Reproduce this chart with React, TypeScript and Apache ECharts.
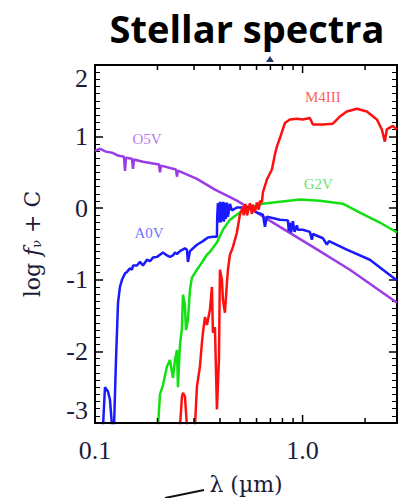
import React, { useEffect, useRef } from 'react';
import * as echarts from 'echarts';

const TITLE = 'Stellar spectra';
const X_NAME = 'λ (µm)';
const X_MIN = 0.1;
const X_MAX = 2.85;
const Y_MIN = -3;
const Y_MAX = 2;
const X_MINOR_TICKS = [0.2, 0.3, 0.4, 0.5, 0.6, 0.7, 0.8, 0.9, 2.0];
const X_MAJOR_TICKS = [1.0];

// [wavelength (µm), log f_nu + C]
const O5V: [number, number][] = [
  [0.1, 0.8], [0.1057, 0.83], [0.113, 0.79], [0.1208, 0.775], [0.1291, 0.735], [0.1379, 0.72],
  [0.1395, 0.52], [0.141, 0.705], [0.1507, 0.69], [0.1524, 0.55], [0.1541, 0.68], [0.1703, 0.65],
  [0.2033, 0.61], [0.2056, 0.5], [0.2079, 0.595], [0.2455, 0.54], [0.2482, 0.44], [0.251, 0.525],
  [0.3098, 0.41], [0.3783, 0.26], [0.4828, 0.105], [0.6026, -0.063], [0.7776, -0.26], [1.121, -0.54],
  [1.69, -0.86], [2.85, -1.32],
];

const A0V: [number, number][] = [
  [0.1093, -3.05], [0.1117, -2.5], [0.1155, -2.56], [0.1181, -2.68], [0.1208, -3.05], [0.1235, -3.05],
  [0.1262, -2.12], [0.1291, -1.32], [0.1319, -1.1], [0.1349, -1.0], [0.1395, -0.91], [0.1426, -0.89],
  [0.1474, -0.84], [0.1507, -0.86], [0.1524, -0.8], [0.1593, -0.8], [0.1647, -0.75], [0.1703, -0.8],
  [0.178, -0.72], [0.184, -0.74], [0.1902, -0.69], [0.1989, -0.68], [0.2056, -0.65], [0.2125, -0.62],
  [0.2222, -0.66], [0.2297, -0.68], [0.2374, -0.66], [0.2428, -0.62], [0.2482, -0.64], [0.2566, -0.6],
  [0.2712, -0.56], [0.2773, -0.58], [0.2804, -0.75], [0.2867, -0.6], [0.3098, -0.51], [0.3311, -0.46],
  [0.35, -0.41], [0.3699, -0.4], [0.3867, -0.4], [0.388, -0.12], [0.391, 0.07], [0.3935, -0.2],
  [0.3954, 0.05], [0.3975, -0.18], [0.3998, 0.09], [0.404, -0.2], [0.4088, 0.08], [0.411, -0.17],
  [0.4133, 0.09], [0.418, -0.19], [0.4226, 0.08], [0.427, -0.15], [0.4321, 0.08], [0.4369, -0.12],
  [0.4467, 0.06], [0.4567, -0.03], [0.4827, 0.01], [0.5393, 0.01], [0.6026, -0.06], [0.644, -0.09],
  [0.6585, -0.26], [0.6732, -0.12], [0.7776, -0.16], [0.8497, -0.17], [0.858, -0.32], [0.8687, -0.2],
  [0.88, -0.34], [0.8981, -0.18], [0.915, -0.33], [0.9388, -0.24], [0.9492, -0.3], [1.003, -0.3],
  [1.084, -0.33], [1.109, -0.44], [1.121, -0.36], [1.253, -0.42], [1.309, -0.51], [1.34, -0.46],
  [1.634, -0.58], [2.109, -0.72], [2.85, -1.01],
];

const G2V: [number, number][] = [
  [0.2011, -3.05], [0.2056, -2.6], [0.2125, -2.47], [0.2222, -2.21], [0.2297, -2.12], [0.2374, -2.37],
  [0.2428, -2.12], [0.2482, -1.98], [0.251, -2.5], [0.2566, -1.91], [0.2624, -1.67], [0.2653, -1.21],
  [0.2712, -1.35], [0.2742, -1.7], [0.2804, -1.56], [0.2867, -1.14], [0.2931, -0.97], [0.3098, -0.86],
  [0.3203, -0.8], [0.3461, -0.65], [0.3578, -0.61], [0.3867, -0.48], [0.4133, -0.3], [0.4467, -0.16],
  [0.4991, -0.06], [0.5393, -0.02], [0.644, 0.063], [0.7776, 0.09], [0.9706, 0.12], [1.212, 0.105],
  [1.563, 0.063], [1.888, -0.063], [2.356, -0.2], [2.85, -0.34],
];

const M4III: [number, number][] = [
  [0.2566, -3.05], [0.2624, -2.63], [0.2653, -2.58], [0.2712, -2.63], [0.2773, -3.05], [0.303, -3.05],
  [0.3098, -2.49], [0.3203, -2.21], [0.3274, -1.88], [0.3311, -1.74], [0.3386, -1.52], [0.3461, -1.63],
  [0.35, -1.56], [0.3578, -1.42], [0.3659, -1.1], [0.3699, -1.74], [0.3782, -1.66], [0.3867, -2.81],
  [0.3954, -2.12], [0.3998, -0.86], [0.4088, -1.0], [0.4133, -1.28], [0.4226, -1.46], [0.4321, -1.04],
  [0.4369, -0.86], [0.4467, -0.65], [0.4567, -0.58], [0.4618, -0.54], [0.4827, -0.34], [0.4991, -0.09],
  [0.5159, 0.02], [0.52, -0.1], [0.53, 0.06], [0.54, -0.1], [0.5576, 0.07], [0.57, -0.08], [0.5764, 0.05],
  [0.59, -0.05], [0.6026, 0.08], [0.615, -0.02], [0.623, 0.1], [0.6369, 0.08], [0.644, 0.22],
  [0.6732, 0.4], [0.7116, 0.54], [0.7356, 0.75], [0.7521, 0.86], [0.7776, 0.98], [0.8219, 1.19],
  [0.8687, 1.24], [0.9388, 1.25], [1.003, 1.24], [1.084, 1.26], [1.121, 1.17], [1.253, 1.17],
  [1.399, 1.18], [1.512, 1.28], [1.634, 1.35], [1.826, 1.39], [2.04, 1.35], [2.279, 1.24],
  [2.409, 1.1], [2.49, 0.93], [2.546, 1.1], [2.721, 1.15], [2.85, 1.1],
];

const STAR_NAMES = ['O5V', 'A0V', 'G2V', 'M4III'];
const STAR_COLORS = ['#9a3de6', '#1a1aff', '#12e012', '#ff1010'];
const LABEL_COLORS = ['#a455e8', '#4a4aff', '#3fdc3f', '#ff3535'];
const LABEL_POS: [number, number][] = [
  [0.178, 0.96],
  [0.182, -0.34],
  [1.19, 0.34],
  [1.253, 1.56],
];

const AXIS_TEXT = '#1c1c3a';
const SERIF = 'Liberation Serif';

export default function App() {
  const ref = useRef<HTMLDivElement>(null);
  useEffect(() => {
    const chart = echarts.init(ref.current!, null, { renderer: 'svg' });
    const spectra = [O5V, A0V, G2V, M4III];
    const xBase = (pos: 'bottom' | 'top') => ({
      type: 'log',
      logBase: 10,
      min: X_MIN,
      max: X_MAX,
      position: pos,
      axisLine: { show: true, onZero: false, lineStyle: { color: '#000', width: 2 } },
      axisTick: { show: false },
      splitLine: { show: false },
    });
    const yBase = (pos: 'left' | 'right') => ({
      type: 'value',
      min: Y_MIN,
      max: Y_MAX,
      interval: 1,
      position: pos,
      axisLine: { show: true, onZero: false, lineStyle: { color: '#000', width: 2 } },
      axisTick: { show: true, inside: true, length: 8, lineStyle: { color: '#000', width: 1.5 } },
      minorTick: { show: true, splitNumber: 10, length: 5, lineStyle: { color: '#000', width: 1 } },
      splitLine: { show: false },
    });
    const tickData = [
      ...X_MINOR_TICKS.map((v) => [v, 5]),
      ...X_MAJOR_TICKS.map((v) => [v, 8]),
    ];
    chart.setOption({
      animation: false,
      grid: {
        left: 95, right: 4, top: 65, bottom: 75,
        show: true, borderColor: '#000', borderWidth: 2, backgroundColor: 'transparent',
        outerBoundsMode: 'none',
      },
      xAxis: [
        {
          ...xBase('bottom'),
          axisLabel: {
            formatter: (v: number) => v.toFixed(1),
            fontFamily: SERIF,
            fontSize: 26,
            color: AXIS_TEXT,
            margin: 14,
            showMaxLabel: false,
          },
          name: X_NAME,
          nameLocation: 'middle',
          nameGap: 50,
          nameTextStyle: { fontFamily: 'DejaVu Serif', fontSize: 22, color: AXIS_TEXT },
        },
        { ...xBase('top'), axisLabel: { show: false } },
      ],
      yAxis: [
        {
          ...yBase('left'),
          axisLabel: {
            fontFamily: SERIF,
            fontSize: 26,
            color: AXIS_TEXT,
            margin: 7,
            verticalAlignMinLabel: 'bottom',
            verticalAlignMaxLabel: 'top',
          },
          name: '{n|log }{i|f}{s|ν}{n| + C}',
          nameLocation: 'middle',
          nameRotate: 90,
          nameGap: 52,
          nameTextStyle: {
            color: AXIS_TEXT,
            rich: {
              n: { fontFamily: 'DejaVu Serif', fontSize: 22, color: AXIS_TEXT },
              i: { fontFamily: 'DejaVu Serif', fontSize: 22, fontStyle: 'italic', color: AXIS_TEXT },
              s: { fontFamily: 'DejaVu Serif', fontSize: 13, color: AXIS_TEXT, verticalAlign: 'bottom' },
            },
          },
        },
        { ...yBase('right'), axisLabel: { show: false } },
      ],
      series: [
        ...spectra.map((d, i) => ({
          type: 'line',
          name: STAR_NAMES[i],
          data: d,
          symbol: 'none',
          clip: true,
          lineStyle: { color: STAR_COLORS[i], width: 2.5 },
          z: 2 + i,
        })),
        {
          type: 'scatter',
          symbolSize: 1,
          itemStyle: { color: 'rgba(0,0,0,0)' },
          silent: true,
          z: 10,
          data: STAR_NAMES.map((n, i) => ({
            name: n,
            value: LABEL_POS[i],
            label: { color: LABEL_COLORS[i] },
          })),
          label: {
            show: true,
            position: 'inside',
            formatter: '{b}',
            fontFamily: SERIF,
            fontSize: 15,
            align: 'center',
            verticalAlign: 'middle',
          },
        },
        {
          type: 'custom',
          silent: true,
          z: 20,
          clip: false,
          data: tickData.map((d) => [d[0], Y_MAX, d[1]]),
          encode: { x: 0, y: 1 },
          renderItem: (_p: any, api: any) => {
            const v = api.value(0);
            const len = api.value(2);
            const t = api.coord([v, Y_MAX]);
            return {
              type: 'line',
              shape: { x1: t[0], y1: t[1], x2: t[0], y2: t[1] + len },
              style: { stroke: '#000', lineWidth: 1.5 },
            };
          },
        },
      ],
    });

    // Bottom frame and bottom ticks, placed through the chart's own scales.
    const toPx = (p: [number, number]) =>
      chart.convertToPixel({ xAxisIndex: 0, yAxisIndex: 0 }, p) as number[];
    const p0 = toPx([X_MIN, Y_MIN]);
    const p1 = toPx([X_MAX, Y_MIN]);
    const bottomTicks = tickData.map((d) => {
      const b = toPx([d[0], Y_MIN]);
      return {
        type: 'line',
        z: 100,
        shape: { x1: b[0], y1: b[1], x2: b[0], y2: b[1] - d[1] },
        style: { stroke: '#000', lineWidth: 1.5 },
      };
    });
    chart.setOption({
      graphic: [
        {
          type: 'text',
          x: 247,
          y: 28,
          style: {
            text: TITLE,
            fontFamily: 'Open Sans',
            fontWeight: 'bold',
            fontSize: 38,
            fill: '#000',
            textAlign: 'center',
            textVerticalAlign: 'middle',
          },
        },
        {
          type: 'polygon',
          shape: { points: [[266, 62], [274, 62], [270, 56]] },
          style: { fill: '#243a6a' },
        },
        {
          type: 'line',
          shape: { x1: 165, y1: 498, x2: 204, y2: 490 },
          style: { stroke: '#111', lineWidth: 2 },
        },
        {
          type: 'line',
          z: 100,
          shape: { x1: p0[0] - 1, y1: p0[1], x2: p1[0] + 1, y2: p1[1] },
          style: { stroke: '#000', lineWidth: 2 },
        },
        ...bottomTicks,
      ],
    });
    return () => chart.dispose();
  }, []);
  return <div ref={ref} style={{ position: 'absolute', left: 0, top: 0, width: 401, height: 498, background: '#fff' }} />;
}
